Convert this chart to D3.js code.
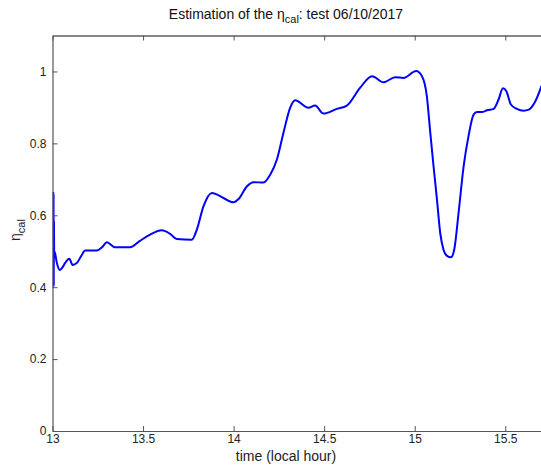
<!DOCTYPE html>
<html>
<head>
<meta charset="utf-8">
<script src="https://cdn.jsdelivr.net/npm/d3@7"></script>
<style>
  html, body { margin: 0; padding: 0; background: #fff; }
  svg { display: block; font-family: "Liberation Sans", Arial, sans-serif; }
</style>
</head>
<body>
<svg id="chart" width="541" height="470"></svg>
<script>
// Estimated calibration efficiency over the afternoon of the test
const times = [
  13.004, 13.005, 13.006, 13.007, 13.008, 13.009, 13.014, 13.023, 13.041, 13.055,
  13.069, 13.093, 13.111, 13.134, 13.160, 13.180, 13.244, 13.275, 13.300, 13.345,
  13.428, 13.483, 13.539, 13.603, 13.650, 13.686, 13.769, 13.797, 13.833, 13.880,
  13.944, 13.999, 14.027, 14.073, 14.109, 14.165, 14.202, 14.239, 14.275, 14.312,
  14.340, 14.413, 14.450, 14.496, 14.570, 14.625, 14.699, 14.764, 14.828, 14.892,
  14.938, 15.008, 15.040, 15.067, 15.086, 15.104, 15.123, 15.141, 15.159, 15.178,
  15.200, 15.218, 15.242, 15.270, 15.297, 15.325, 15.344, 15.371, 15.399, 15.436,
  15.463, 15.487, 15.506, 15.531, 15.564, 15.601, 15.630, 15.666, 15.700
];
const eta = [
  0.665, 0.400, 0.660, 0.405, 0.583, 0.500, 0.495, 0.470, 0.448, 0.455,
  0.467, 0.479, 0.462, 0.467, 0.488, 0.502, 0.502, 0.512, 0.525, 0.511,
  0.511, 0.529, 0.546, 0.558, 0.548, 0.534, 0.532, 0.560, 0.624, 0.662,
  0.648, 0.636, 0.645, 0.680, 0.692, 0.691, 0.713, 0.755, 0.829, 0.899,
  0.920, 0.899, 0.905, 0.883, 0.896, 0.905, 0.955, 0.987, 0.970, 0.984,
  0.982, 1.001, 0.987, 0.931, 0.829, 0.736, 0.643, 0.550, 0.504, 0.487,
  0.483, 0.504, 0.606, 0.736, 0.820, 0.880, 0.887, 0.887, 0.892, 0.896,
  0.922, 0.953, 0.945, 0.908, 0.896, 0.891, 0.894, 0.917, 0.960
];
const xTicks = [13, 13.5, 14, 14.5, 15, 15.5];
const yTicks = [0, 0.2, 0.4, 0.6, 0.8, 1];
const xDomain = [13, 15.7];
const yDomain = [0, 1.1];

const svg = d3.select("#chart");
const plotL = 52.5, plotT = 35.5, plotB = 431, plotR = 541.5;

const x = d3.scaleLinear().domain(xDomain).range([plotL, plotR]);
const y = d3.scaleLinear().domain(yDomain).range([plotB, plotT]);

const axisColor = "#555";
const textColor = "#222";

// plotted series
const pts = times.map((t, i) => [t, eta[i]]);
svg.append("defs").append("clipPath").attr("id", "plotclip")
  .append("rect").attr("x", plotL).attr("y", plotT).attr("width", plotR - plotL).attr("height", plotB - plotT);
svg.append("path")
  .datum(pts)
  .attr("clip-path", "url(#plotclip)")
  .attr("fill", "none")
  .attr("stroke", "#0000ff")
  .attr("stroke-width", 2)
  .attr("stroke-linejoin", "round")
  .attr("d", d3.line().x(d => x(d[0])).y(d => y(d[1])).curve(d3.curveMonotoneX));

// bottom axis (ticks pointing inward)
const xAxis = svg.append("g").attr("transform", `translate(0,${plotB})`)
  .call(d3.axisBottom(x).tickValues(xTicks).tickSizeInner(-5).tickSizeOuter(0).tickPadding(5)
    .tickFormat(d3.format("")));
xAxis.select(".domain").attr("stroke", axisColor).attr("stroke-width", 1.2);
xAxis.selectAll(".tick line").attr("stroke", axisColor);
xAxis.selectAll(".tick text").attr("fill", textColor).attr("font-size", 12)
  .attr("font-family", "Liberation Sans, Arial, sans-serif").attr("dy", "0.55em");

// top edge of the box with inward ticks
const xTop = svg.append("g").attr("transform", `translate(0,${plotT})`)
  .call(d3.axisTop(x).tickValues(xTicks).tickSizeInner(-5).tickSizeOuter(0).tickFormat(""));
xTop.select(".domain").attr("stroke", "#111").attr("stroke-width", 1.2);
xTop.selectAll(".tick line").attr("stroke", axisColor);

// left axis
const yAxis = svg.append("g").attr("transform", `translate(${plotL},0)`)
  .call(d3.axisLeft(y).tickValues(yTicks).tickSizeInner(-5).tickSizeOuter(0).tickPadding(6)
    .tickFormat(d3.format("")));
yAxis.select(".domain").attr("stroke", axisColor).attr("stroke-width", 1.2);
yAxis.selectAll(".tick line").attr("stroke", axisColor);
yAxis.selectAll(".tick text").attr("fill", textColor).attr("font-size", 12)
  .attr("font-family", "Liberation Sans, Arial, sans-serif");

// title
const title = svg.append("text")
  .attr("x", 286).attr("y", 19)
  .attr("text-anchor", "middle")
  .attr("font-size", 14)
  .attr("fill", "#111");
title.append("tspan").text("Estimation of the \u03b7");
title.append("tspan").attr("font-size", 11).attr("dy", 4).text("cal");
title.append("tspan").attr("dy", -4).text(": test 06/10/2017");

// x label
svg.append("text")
  .attr("x", 286).attr("y", 461)
  .attr("text-anchor", "middle")
  .attr("font-size", 14)
  .attr("fill", textColor)
  .text("time (local hour)");

// y label
const ylab = svg.append("text")
  .attr("transform", `translate(20,${230}) rotate(-90)`)
  .attr("text-anchor", "middle")
  .attr("font-size", 14)
  .attr("fill", textColor);
ylab.append("tspan").text("\u03b7");
ylab.append("tspan").attr("font-size", 11).attr("dy", 5).text("cal");
</script>
</body>
</html>
